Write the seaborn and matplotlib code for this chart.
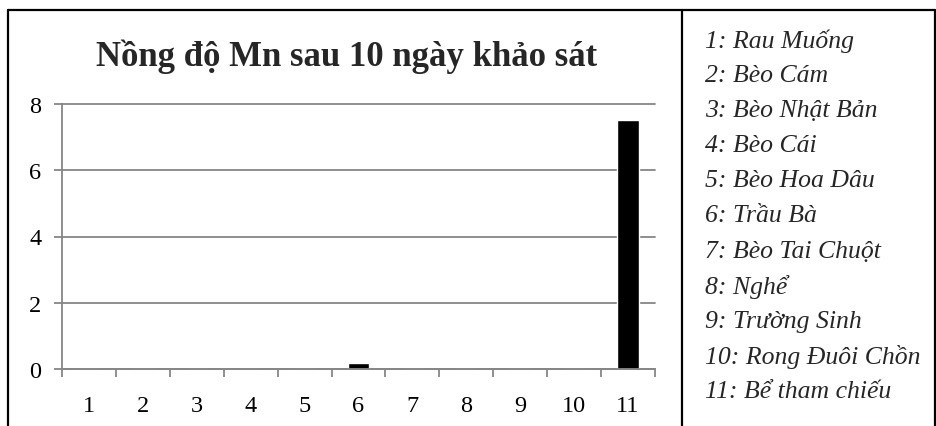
import matplotlib
matplotlib.use("Agg")
import matplotlib.pyplot as plt
import seaborn as sns
import pandas as pd
from matplotlib.lines import Line2D

# Sample numbers (x axis) and measured Mn concentration
categories = ["1", "2", "3", "4", "5", "6", "7", "8", "9", "10", "11"]
mn_values = [0, 0, 0, 0, 0, 0.18, 0, 0, 0, 0, 7.53]
species = ["Rau Muống", "Bèo Cám", "Bèo Nhật Bản", "Bèo Cái", "Bèo Hoa Dâu",
           "Trầu Bà", "Bèo Tai Chuột", "Nghể", "Trường Sinh", "Rong Đuôi Chồn",
           "Bể tham chiếu"]
y_ticks = [0, 2, 4, 6, 8]
title = "Nồng độ Mn sau 10 ngày khảo sát"

sns.set_style("white")
plt.rcParams["font.family"] = ["Liberation Serif", "DejaVu Serif"]

W, H = 937, 427
fig = plt.figure(figsize=(W / 100, H / 100), dpi=100)
fig.patch.set_facecolor("white")

ax = fig.add_axes([62 / W, 1 - 370 / H, (655 - 62) / W, (370 - 105) / H])
df = pd.DataFrame({"sample": categories, "mn": mn_values})
sns.barplot(data=df, x="sample", y="mn", color="black", saturation=1,
            width=0.4, errorbar=None, ax=ax)

grey = "#868686"
ax.set_xlim(-0.5, len(categories) - 0.5)
ax.set_ylim(0, 8)
ax.set_yticks(y_ticks)
ax.yaxis.grid(True, color=grey, lw=1.3)
ax.xaxis.grid(False)
ax.set_axisbelow(True)
for gl in ax.get_ygridlines():
    gl.set_clip_on(False)
ax.set_xlabel("")
ax.set_ylabel("")

for side in ("top", "right"):
    ax.spines[side].set_visible(False)
for side in ("left", "bottom"):
    ax.spines[side].set_color(grey)
    ax.spines[side].set_linewidth(1.3)

# Category labels centred, tick marks on category boundaries
ax.set_xticks(range(len(categories)))
ax.set_xticklabels(categories)
ax.set_xticks([i - 0.5 for i in range(len(categories) + 1)], minor=True)
ax.tick_params(axis="x", which="major", bottom=True, length=0, pad=19,
               labelsize=17.5, colors="black")
ax.tick_params(axis="x", which="minor", bottom=True, length=6, width=1.3,
               color=grey, direction="out")
ax.tick_params(axis="y", which="major", left=True, length=6, width=1.3, color=grey,
               direction="out", pad=9, labelsize=17.5, labelcolor="black")

# Title
fig.text(347 / W, 1 - 57 / H, title, ha="center", va="center",
         fontsize=25, fontweight="bold")

# Frame and separator
lw = 1.6
fig.add_artist(Line2D([8 / W, 935.5 / W], [1 - 11 / H, 1 - 11 / H], color="black", lw=lw))
fig.add_artist(Line2D([8 / W, 8 / W], [0, 1 - 11 / H], color="black", lw=lw))
fig.add_artist(Line2D([682 / W, 682 / W], [0, 1 - 11 / H], color="black", lw=lw))
fig.add_artist(Line2D([935.5 / W, 935.5 / W], [0, 1 - 11 / H], color="black", lw=lw))

# Species key
for i, name in enumerate(species):
    fig.text(705 / W, 1 - (41 + 35.1 * i) / H, f"{i + 1}: {name}",
             ha="left", va="center", fontsize=18.5, style="italic")

fig.savefig("out.png", dpi=100, facecolor="white")
